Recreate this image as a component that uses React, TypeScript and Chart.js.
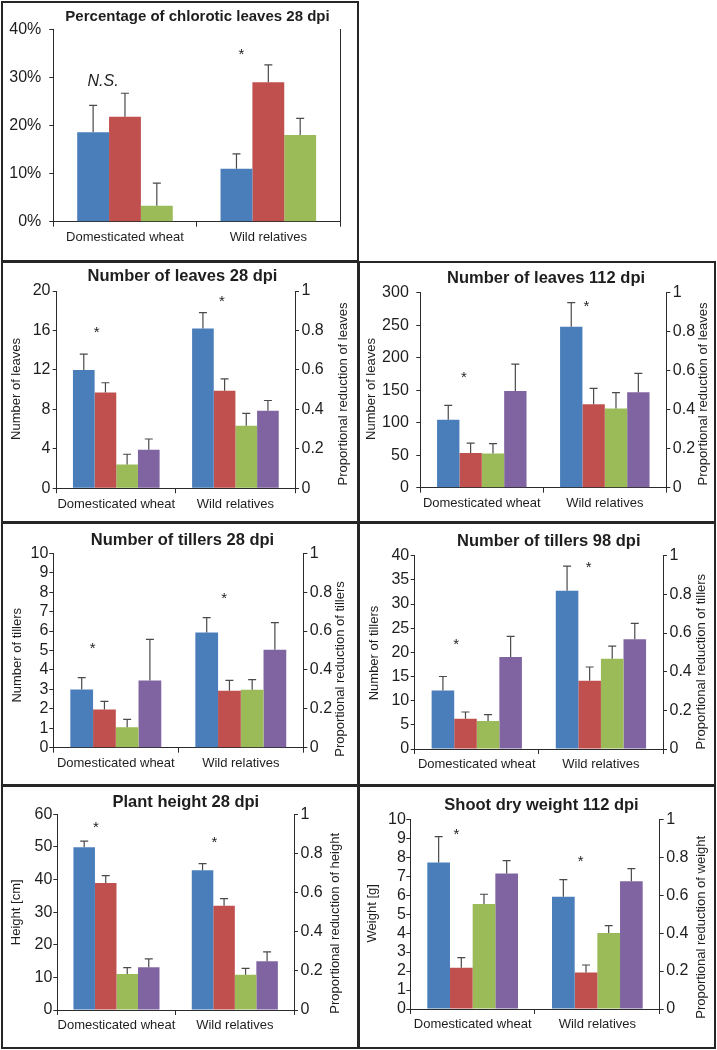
import { useEffect, useRef } from "react";
import { Chart, registerables } from "chart.js";

Chart.register(...registerables);

const FONT = "'Liberation Sans', Arial, Helvetica, sans-serif";

// ---------- data ----------
const categories = ["Domesticated wheat", "Wild relatives"];
const seriesColors = ["#4A7EBB", "#C0504D", "#9BBB59", "#8064A2"];

// Panel 1: percentage of chlorotic leaves (%)
const chloroticMean = [[18.6, 11.0], [21.8, 29.0], [3.3, 18.0]];
const chloroticErr = [[5.6, 3.1], [4.9, 3.6], [4.7, 3.5]];

// Panel 2: number of leaves 28 dpi (purple = proportional reduction, right axis)
const leaves28Mean = [[12.0, 16.2], [9.7, 9.9], [2.4, 6.35], [0.195, 0.393]];
const leaves28Err = [[1.6, 1.6], [1.0, 1.2], [1.05, 1.25], [0.055, 0.052]];

// Panel 3: number of leaves 112 dpi
const leaves112Mean = [[104.6, 247.7], [53.5, 128.2], [52.8, 122.0], [0.496, 0.489]];
const leaves112Err = [[22.1, 36.9], [15.2, 24.6], [15.0, 24.2], [0.138, 0.097]];

// Panel 4: number of tillers 28 dpi
const tillers28Mean = [[3.0, 5.92], [1.97, 2.93], [1.05, 2.98], [0.346, 0.504]];
const tillers28Err = [[0.6, 0.77], [0.41, 0.53], [0.41, 0.52], [0.211, 0.139]];

// Panel 5: number of tillers 98 dpi
const tillers98Mean = [[12.1, 32.76], [6.28, 14.14], [5.79, 18.69], [0.476, 0.568]];
const tillers98Err = [[2.9, 5.1], [1.38, 2.83], [1.31, 2.61], [0.107, 0.082]];

// Panel 6: plant height 28 dpi
const height28Mean = [[49.9, 42.84], [38.96, 32.0], [11.04, 10.84], [0.218, 0.249]];
const height28Err = [[1.9, 2.06], [2.24, 2.15], [1.95, 1.94], [0.043, 0.048]];

// Panel 7: shoot dry weight 112 dpi
const weight112Mean = [[7.72, 5.92], [2.18, 1.92], [5.54, 4.01], [0.714, 0.673]];
const weight112Err = [[1.37, 0.9], [0.53, 0.4], [0.51, 0.38], [0.068, 0.067]];

// significance marks: text, category index, value on left axis
const chloroticMarks = [{ text: "N.S.", cat: 0, value: 29.1 }, { text: "*", cat: 1, value: 34.7 }];
const leaves28Marks = [{ text: "*", cat: 0, value: 15.8 }, { text: "*", cat: 1, value: 18.9 }];
const leaves112Marks = [{ text: "*", cat: 0, value: 168.7 }, { text: "*", cat: 1, value: 278.5 }];
const tillers28Marks = [{ text: "*", cat: 0, value: 5.11 }, { text: "*", cat: 1, value: 7.68 }];
const tillers98Marks = [{ text: "*", cat: 0, value: 21.5 }, { text: "*", cat: 1, value: 37.4 }];
const height28Marks = [{ text: "*", cat: 0, value: 55.7 }, { text: "*", cat: 1, value: 51.1 }];
const weight112Marks = [{ text: "*", cat: 0, value: 9.17 }, { text: "*", cat: 1, value: 7.77 }];

// ---------- layout / style ----------
const AXIS = "#2b2b2b";
const TEXT = "#1e1e1e";

type Spec = any;

const panels: Spec[] = [
  {
    x: 1, y: 1, w: 358, h: 261,
    plot: [52.3, 28.3, 339, 220.7],
    title: "Percentage of chlorotic leaves 28 dpi", titleXY: [196.5, 16.3], titleSize: 15,
    mean: chloroticMean, err: chloroticErr, yMax: 40, yStep: 10, percent: true,
    marks: chloroticMarks, markDx: [-0.153, -0.187], tickPad: 8, rightTicks: false,
  },
  {
    x: 1, y: 261, w: 358, h: 262,
    plot: [55.7, 30, 294, 227.3],
    title: "Number of leaves 28 dpi", titleXY: [181.5, 15.7], titleSize: 16.5,
    leftTitle: "Number of leaves", leftXY: [15, 128],
    rightTitle: "Proportional reduction of leaves", rightXY: [342.3, 133],
    mean: leaves28Mean, err: leaves28Err, yMax: 20, yStep: 4,
    marks: leaves28Marks, markDx: [-0.164, -0.114], tickPad: 2.2, rightPad: 2.5, rightTicks: true,
  },
  {
    x: 358, y: 261, w: 358, h: 262,
    plot: [62.3, 31.7, 308.3, 226.7],
    title: "Number of leaves 112 dpi", titleXY: [188, 17.3], titleSize: 16.5,
    leftTitle: "Number of leaves", leftXY: [13.3, 128],
    rightTitle: "Proportional reduction of leaves", rightXY: [345, 133],
    mean: leaves112Mean, err: leaves112Err, yMax: 300, yStep: 50,
    marks: leaves112Marks, markDx: [-0.146, -0.149], tickPad: 7.5, rightPad: 2.5, rightTicks: true,
  },
  {
    x: 1, y: 522, w: 358, h: 264,
    plot: [52.3, 31.3, 302.3, 225.7],
    title: "Number of tillers 28 dpi", titleXY: [181.5, 18], titleSize: 16.5,
    leftTitle: "Number of tillers", leftXY: [16.3, 133.3],
    rightTitle: "Proportional reduction of tillers", rightXY: [339, 147],
    mean: tillers28Mean, err: tillers28Err, yMax: 10, yStep: 1,
    marks: tillers28Marks, markDx: [-0.185, -0.134], tickPad: 1, rightPad: 2.5, rightTicks: true,
  },
  {
    x: 358, y: 522, w: 358, h: 264,
    plot: [56.7, 33.7, 305, 227],
    title: "Number of tillers 98 dpi", titleXY: [190.8, 19.7], titleSize: 16.5,
    leftTitle: "Number of tillers", leftXY: [16, 131],
    rightTitle: "Proportional reduction of tillers", rightXY: [343.3, 139.7],
    mean: tillers98Mean, err: tillers98Err, yMax: 40, yStep: 5,
    marks: tillers98Marks, markDx: [-0.165, -0.098], tickPad: 1.5, rightPad: 2.5, rightTicks: true,
  },
  {
    x: 1, y: 785, w: 358, h: 264,
    plot: [56.3, 29.3, 293, 225],
    title: "Plant height 28 dpi", titleXY: [184.8, 17.7], titleSize: 16.5,
    leftTitle: "Height [cm]", leftXY: [15.7, 127.3],
    rightTitle: "Proportional reduction of height", rightXY: [334, 138.3],
    mean: height28Mean, err: height28Err, yMax: 60, yStep: 10,
    marks: height28Marks, markDx: [-0.173, -0.173], tickPad: 1, rightPad: 2.5, rightTicks: true,
  },
  {
    x: 358, y: 785, w: 358, h: 264,
    plot: [52.3, 34.3, 301.7, 224],
    title: "Shoot dry weight 112 dpi", titleXY: [183.5, 20], titleSize: 16.5,
    leftTitle: "Weight [g]", leftXY: [14, 128.3],
    rightTitle: "Proportional reduction of weight", rightXY: [343.3, 142.3],
    mean: weight112Mean, err: weight112Err, yMax: 10, yStep: 1,
    marks: weight112Marks, markDx: [-0.13, -0.133], tickPad: 0.5, rightPad: 2.5, rightTicks: true,
  },
];

// ---------- plugins ----------
const errorBarPlugin = {
  id: "errorBars",
  afterDatasetsDraw(chart: any) {
    const ctx = chart.ctx;
    ctx.save();
    ctx.strokeStyle = "#4a4a4a";
    ctx.lineWidth = 1.2;
    chart.data.datasets.forEach((ds: any, i: number) => {
      const meta = chart.getDatasetMeta(i);
      const ys = chart.scales[meta.yAxisID];
      meta.data.forEach((el: any, j: number) => {
        const top = ys.getPixelForValue(ds.data[j] + ds.errors[j]);
        ctx.beginPath();
        ctx.moveTo(el.x, el.y);
        ctx.lineTo(el.x, top);
        ctx.moveTo(el.x - 4, top);
        ctx.lineTo(el.x + 4, top);
        ctx.stroke();
      });
    });
    ctx.restore();
  },
};

const panelTextPlugin = {
  id: "panelText",
  afterDraw(chart: any, _args: any, opts: any) {
    const ctx = chart.ctx;
    ctx.save();
    ctx.fillStyle = TEXT;
    ctx.textAlign = "center";
    ctx.textBaseline = "middle";
    ctx.font = `bold ${opts.titleSize}px ${FONT}`;
    ctx.fillText(opts.title, opts.titleXY[0], opts.titleXY[1]);
    ctx.font = `13px ${FONT}`;
    if (opts.leftTitle) {
      ctx.save();
      ctx.translate(opts.leftXY[0], opts.leftXY[1]);
      ctx.rotate(-Math.PI / 2);
      ctx.fillText(opts.leftTitle, 0, 0);
      ctx.restore();
    }
    if (opts.rightTitle) {
      ctx.save();
      ctx.translate(opts.rightXY[0], opts.rightXY[1]);
      ctx.rotate(-Math.PI / 2);
      ctx.fillText(opts.rightTitle, 0, 0);
      ctx.restore();
    }
    const xs = chart.scales.x;
    const ys = chart.scales.y;
    const catW = (xs.right - xs.left) / categories.length;
    opts.marks.forEach((m: any, k: number) => {
      const px = xs.getPixelForValue(m.cat) + opts.markDx[k] * catW;
      const py = ys.getPixelForValue(m.value);
      ctx.font = m.text === "*" ? `15px ${FONT}` : `italic 16px ${FONT}`;
      ctx.fillText(m.text, px, py);
    });
    ctx.restore();
  },
};

function buildConfig(p: Spec): any {
  const [pl, pt, pr, pb] = p.plot;
  const n = p.mean.length;
  const datasets = p.mean.map((m: number[], i: number) => ({
    label: "s" + i,
    data: m,
    errors: p.err[i],
    backgroundColor: seriesColors[i],
    borderWidth: 0,
    yAxisID: i === 3 ? "y1" : "y",
    categoryPercentage: n / (n + 1.5),
    barPercentage: 1,
  }));
  const tickFont = { family: FONT, size: 16 };
  return {
    type: "bar",
    data: { labels: categories, datasets },
    plugins: [errorBarPlugin, panelTextPlugin],
    options: {
      animation: false,
      responsive: false,
      devicePixelRatio: 1,
      layout: { padding: { top: pt, left: 0, right: 0, bottom: 0 } },
      plugins: {
        legend: { display: false },
        title: { display: false },
        tooltip: { enabled: false },
        panelText: {
          title: p.title, titleXY: p.titleXY, titleSize: p.titleSize,
          leftTitle: p.leftTitle, leftXY: p.leftXY,
          rightTitle: p.rightTitle, rightXY: p.rightXY,
          marks: p.marks, markDx: p.markDx,
        },
      },
      scales: {
        x: {
          type: "category",
          offset: true,
          grid: { offset: true, drawOnChartArea: false, drawTicks: true, tickLength: 5, color: AXIS, lineWidth: 1 },
          border: { display: true, color: AXIS, width: 1 },
          ticks: { font: { family: FONT, size: 13 }, color: TEXT, padding: 3, maxRotation: 0, autoSkip: false },
          afterFit: (s: any) => { s.height = p.h - pb; },
        },
        y: {
          position: "left",
          min: 0,
          max: p.yMax,
          grid: { drawOnChartArea: false, drawTicks: true, tickLength: 4, color: AXIS, lineWidth: 1 },
          border: { display: true, color: AXIS, width: 1 },
          ticks: {
            stepSize: p.yStep,
            autoSkip: false,
            font: tickFont,
            color: TEXT,
            padding: p.tickPad,
            callback: (v: any) => (p.percent ? v + "%" : String(v)),
          },
          afterFit: (s: any) => { s.width = pl; },
        },
        y1: {
          position: "right",
          min: 0,
          max: 1,
          grid: { drawOnChartArea: false, drawTicks: p.rightTicks, tickLength: 4, color: AXIS, lineWidth: 1 },
          border: { display: true, color: AXIS, width: 1 },
          ticks: {
            display: p.rightTicks,
            stepSize: 0.2,
            autoSkip: false,
            font: tickFont,
            color: TEXT,
            padding: p.rightPad || 0,
            callback: (v: any) => String(Math.round(v * 10) / 10),
          },
          afterFit: (s: any) => { s.width = p.w - pr; },
        },
      },
    },
  };
}

function Panel({ spec }: { spec: Spec }) {
  const ref = useRef<HTMLCanvasElement>(null);
  useEffect(() => {
    const chart = new Chart(ref.current as HTMLCanvasElement, buildConfig(spec));
    return () => chart.destroy();
  }, [spec]);
  return (
    <div style={{ position: "absolute", left: spec.x, top: spec.y, width: spec.w, height: spec.h }}>
      <canvas ref={ref} width={spec.w} height={spec.h} style={{ display: "block", width: spec.w, height: spec.h }} />
      <div
        style={{
          position: "absolute", left: 0, top: 0, width: spec.w, height: spec.h,
          border: "2px solid #262626", boxSizing: "border-box", pointerEvents: "none",
        }}
      />
    </div>
  );
}

export default function App() {
  return (
    <div style={{ position: "absolute", left: 0, top: 0, width: 717, height: 1050, background: "#fff", overflow: "hidden" }}>
      {panels.map((p, i) => (
        <Panel key={i} spec={p} />
      ))}
    </div>
  );
}
